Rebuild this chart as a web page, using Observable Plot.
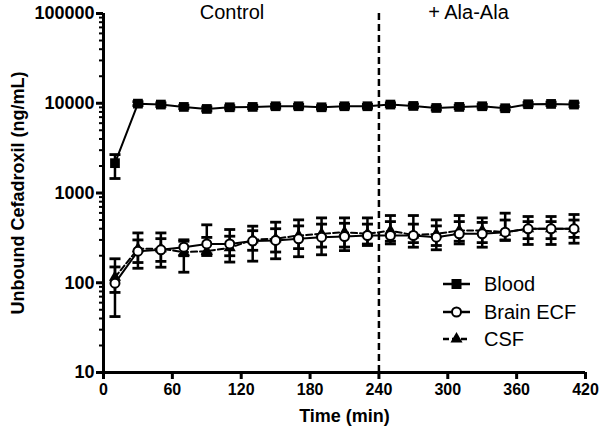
<!DOCTYPE html>
<html><head><meta charset="utf-8">
<script src="https://cdn.jsdelivr.net/npm/d3@7"></script>
<script src="https://cdn.jsdelivr.net/npm/@observablehq/plot@0.6"></script>
<style>
body{margin:0;background:#fff}
#chart{width:600px;height:434px}
</style>
</head><body><div id="chart"></div>
<script>
// ---- data ----
const times = [10,30,50,70,90,110,130,150,170,190,210,230,250,270,290,310,330,350,370,390,410];

const blood   = [2150,9900,9670,9100,8640,9020,9100,9260,9260,9020,9260,9260,9670,9330,8860,9100,9260,8800,9750,9830,9670];
const bloodLo = [1450,9400,9200,8700,8200,8600,8700,8800,8800,8600,8800,8800,9200,8900,8400,8700,8800,8400,9300,9400,9200];
const bloodHi = [2680,10400,10100,9500,9100,9400,9500,9700,9700,9400,9700,9700,10100,9800,9300,9500,9700,9200,10200,10300,10100];

const ecf   = [99,225,233,249,271,271,291,296,309,322,327,336,336,336,322,351,351,366,399,399,399];
const ecfLo = [42,145,149,200,201,170,174,185,195,205,228,260,271,249,233,271,249,296,267,267,276];
const ecfHi = [185,300,310,301,442,392,427,400,430,450,460,450,480,450,430,480,470,500,480,480,500];

const csf   = [115,239,240,219,225,245,301,310,336,351,366,351,380,340,350,382,382,366,399,399,399];
const csfLo = [78,168,173,131,210,200,230,220,240,250,250,270,290,280,260,290,280,300,310,310,320];
const csfHi = [150,359,359,290,320,330,380,473,502,528,528,528,561,561,502,561,528,596,547,547,576];

const seriesNames = ["Blood", "Brain ECF", "CSF"];
const xTicks = [0,60,120,180,240,300,360,420];
const yTicks = [10,100,1000,10000,100000];
const xLabel = "Time (min)";
const yLabel = "Unbound Cefadroxil (ng/mL)";
const phaseLabels = ["Control", "+ Ala-Ala"];
const phaseLabelTimes = [112, 318];
const phaseStart = 240;

// ---- build tables ----
function rows(name, v, lo, hi) {
  return times.map((t, i) => ({series: name, t, v: v[i], lo: lo[i], hi: hi[i]}));
}
const bloodRows = rows(seriesNames[0], blood, bloodLo, bloodHi);
const ecfRows = rows(seriesNames[1], ecf, ecfLo, ecfHi);
const csfRows = rows(seriesNames[2], csf, csfLo, csfHi);
const allRows = [...bloodRows, ...ecfRows, ...csfRows];

const minorTicks = [];
for (let d = 10; d < 100000; d *= 10) for (let k = 2; k <= 9; k++) minorTicks.push(d * k);

const capSymbol = {
  draw(ctx, size) {
    const w = Math.sqrt(size / Math.PI);
    ctx.moveTo(-w, 0);
    ctx.lineTo(w, 0);
  }
};

const FONT = "'Liberation Sans', Arial, Helvetica, sans-serif";

const chart = Plot.plot({
  width: 600,
  height: 434,
  marginLeft: 103,
  marginRight: 15,
  marginTop: 13,
  marginBottom: 62,
  style: {fontFamily: FONT, color: "black", background: "white", overflow: "visible"},
  x: {domain: [0, 420]},
  y: {type: "log", domain: [10, 100000]},
  marks: [
    // phase divider
    Plot.ruleX([phaseStart], {stroke: "black", strokeWidth: 2.5, strokeDasharray: "7,4"}),
    // lines
    Plot.line(csfRows, {x: "t", y: "v", stroke: "black", strokeWidth: 2, strokeDasharray: "6,3"}),
    Plot.line(ecfRows, {x: "t", y: "v", stroke: "black", strokeWidth: 2}),
    Plot.line(bloodRows, {x: "t", y: "v", stroke: "black", strokeWidth: 2}),
    // error bars
    Plot.ruleX(allRows, {x: "t", y1: "lo", y2: "hi", stroke: "black", strokeWidth: 2.5}),
    Plot.dot(allRows, {x: "t", y: "lo", symbol: capSymbol, r: 5.5, stroke: "black", strokeWidth: 2.8}),
    Plot.dot(allRows, {x: "t", y: "hi", symbol: capSymbol, r: 5.5, stroke: "black", strokeWidth: 2.8}),
    // markers
    Plot.dot(csfRows, {x: "t", y: "v", symbol: "triangle", r: 4.5, fill: "black", stroke: "none"}),
    Plot.dot(ecfRows, {x: "t", y: "v", symbol: "circle", r: 4.5, fill: "white", stroke: "black", strokeWidth: 2}),
    Plot.dot(bloodRows, {x: "t", y: "v", symbol: "square", r: 5.5, fill: "black", stroke: "none"}),
    // axes
    Plot.axisY(minorTicks, {tickSize: 4, strokeWidth: 2, tickFormat: () => "", label: null}),
    Plot.axisY(yTicks, {tickSize: 7, strokeWidth: 3, tickPadding: 2, fontSize: 18, fontWeight: "bold",
      tickFormat: d => String(d), label: yLabel, labelAnchor: "center",
      labelOffset: 92, labelArrow: "none"}),
    Plot.axisX(xTicks, {tickSize: 7, strokeWidth: 3, tickPadding: 4, fontSize: 16, fontWeight: "bold",
      label: null}),
    Plot.text([xLabel], {text: d => d, frameAnchor: "bottom", lineAnchor: "bottom", dy: 49,
      fontSize: 18, fontWeight: "bold", fill: "black"}),
    Plot.ruleX([0], {stroke: "black", strokeWidth: 3}),
    Plot.ruleY([10], {stroke: "black", strokeWidth: 3}),
    // phase labels
    Plot.text(phaseLabels, {x: phaseLabelTimes, text: d => d, frameAnchor: "top", lineAnchor: "bottom",
      dy: 5, fontSize: 20, fill: "black"})
  ]
});

document.getElementById("chart").appendChild(chart);

// ---- legend ----
const svg = d3.select(chart);
const lg = svg.append("g").attr("font-family", FONT).attr("font-size", 20).attr("text-anchor", "start");
const legendY = [284, 312, 339];
const lx0 = 443, lx1 = 470, lxm = 456.5, ltx = 484;
seriesNames.forEach((name, i) => {
  const y = legendY[i];
  lg.append("line").attr("x1", lx0).attr("x2", lx1).attr("y1", y).attr("y2", y)
    .attr("stroke", "black").attr("stroke-width", 2.5)
    .attr("stroke-dasharray", i === 2 ? "6,3" : null);
  if (i === 0) {
    lg.append("rect").attr("x", lxm - 5).attr("y", y - 5).attr("width", 10).attr("height", 10).attr("fill", "black");
  } else if (i === 1) {
    lg.append("circle").attr("cx", lxm).attr("cy", y).attr("r", 4.5).attr("fill", "white")
      .attr("stroke", "black").attr("stroke-width", 2);
  } else {
    lg.append("path").attr("transform", `translate(${lxm},${y})`)
      .attr("d", d3.symbol(d3.symbolTriangle, Math.PI * 4.5 * 4.5)()).attr("fill", "black");
  }
  lg.append("text").attr("x", ltx).attr("y", y).attr("dy", "0.35em").attr("text-anchor", "start")
    .attr("fill", "black").text(name);
});
</script>
</body></html>
